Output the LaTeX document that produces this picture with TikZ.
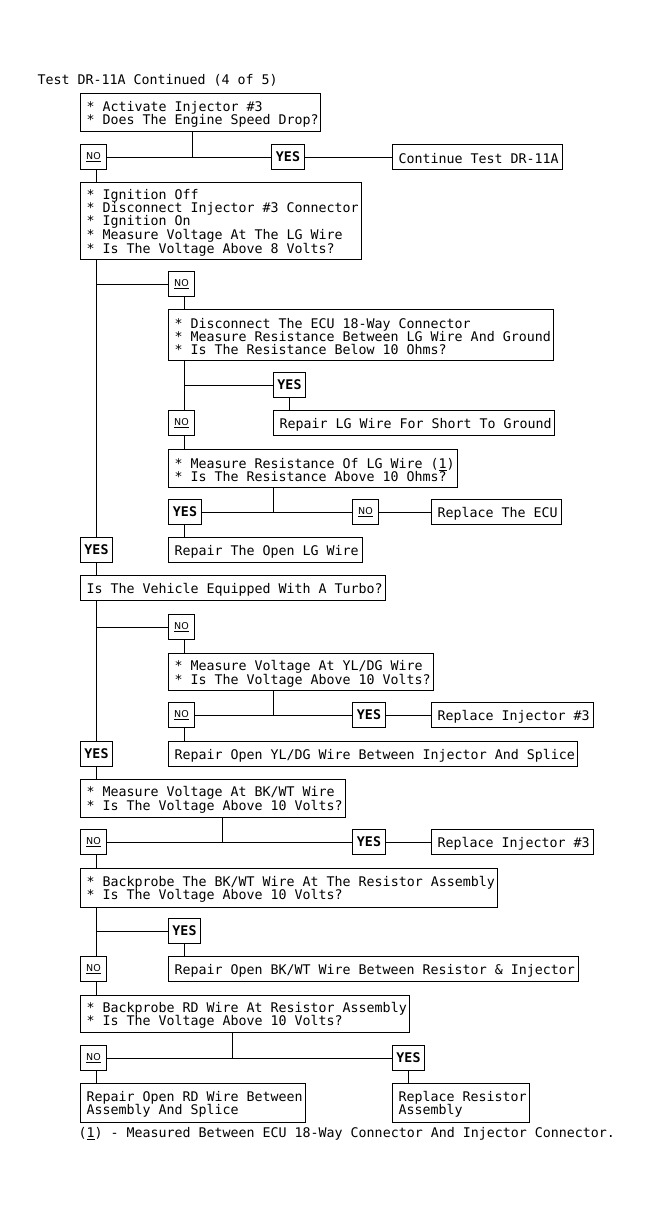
\documentclass[tikz,border=0pt]{standalone}
\usepackage{fontspec}
\setmainfont{DejaVu Sans Mono}
\setmonofont{DejaVu Sans Mono}
\newfontfamily\nofont{DejaVu Sans}
\begin{document}
\begin{tikzpicture}[x=1pt,y=-1pt,line width=1pt,
  every node/.style={font=\fontsize{13.3}{13}\selectfont},
  tbox/.style={draw,anchor=north west,inner xsep=0pt,inner ysep=0pt},
  rbox/.style={draw,anchor=west,inner xsep=0pt,inner ysep=0pt,minimum height=25pt},
  sbox/.style={draw,anchor=west,inner sep=0pt,minimum height=25pt,align=center},
  yestxt/.style={font=\bfseries\fontsize{13.3}{13}\selectfont},
  notxt/.style={font=\nofont\fontsize{9.5}{10}\selectfont}]
\useasboundingbox (0,0) rectangle (646,1216);
\newcommand\bx[6]{\node[tbox,text width=#4pt,minimum height=#5pt] (#1) at (#2,#3) {\spaceskip=0pt\xspaceskip=0pt\noindent\hspace*{6pt}\parbox[c]{\dimexpr#4pt-6pt\relax}{\vspace*{3pt}#6}};}
\newcommand\rx[5]{\node[rbox,text width=#4pt] (#1) at (#2,#3) {\spaceskip=0pt\xspaceskip=0pt\noindent\hspace*{6pt}\parbox[c]{\dimexpr#4pt-6pt\relax}{\vspace*{3pt}#5}};}
\newcommand\nob[3]{\node[sbox,notxt,minimum width=26pt] (#1) at (#2,#3) {\underline{NO}};}
\newcommand\yesb[4]{\node[sbox,yestxt,minimum width=#4pt] (#1) at (#2,#3) {YES};}

\node[anchor=west,inner sep=0pt] (title) at (37,80) {Test DR-11A Continued (4 of 5)};

\bx{box1}{80}{93}{240}{38}{* Activate Injector \#3\\{}* Does The Engine Speed Drop?}
\nob{no1}{80}{157}
\yesb{yes1}{271}{157}{33}
\rx{cont}{392}{157}{170}{Continue Test DR-11A}
\bx{box2}{80}{182}{281}{77}{* Ignition Off\\{}* Disconnect Injector \#3 Connector\\{}* Ignition On\\{}* Measure Voltage At The LG Wire\\{}* Is The Voltage Above 8 Volts?}
\nob{no2}{168}{284}
\bx{box3}{168}{309}{385}{51}{* Disconnect The ECU 18-Way Connector\\{}* Measure Resistance Between LG Wire And Ground\\{}* Is The Resistance Below 10 Ohms?}
\yesb{yes2}{273}{385}{32}
\rx{replg}{273}{423}{281}{Repair LG Wire For Short To Ground}
\nob{no3}{168}{423}
\bx{box4}{168}{449}{289}{38}{* Measure Resistance Of LG Wire (\underline{1})\\{}* Is The Resistance Above 10 Ohms?}
\yesb{yes3}{168}{512}{33}
\nob{no4}{352}{512}
\rx{repecu}{431}{512}{130}{Replace The ECU}
\rx{repopen}{168}{550}{194}{Repair The Open LG Wire}
\yesb{yes4}{80}{550}{32}
\rx{turbo}{80}{588}{305}{Is The Vehicle Equipped With A Turbo?}
\nob{no5}{168}{627}
\bx{box5}{168}{653}{265}{37}{* Measure Voltage At YL/DG Wire\\{}* Is The Voltage Above 10 Volts?}
\nob{no6}{168}{715}
\yesb{yes6}{352}{715}{33}
\rx{repinj}{431}{715}{162}{Replace Injector \#3}
\rx{repyl}{168}{754}{409}{Repair Open YL/DG Wire Between Injector And Splice}
\yesb{yes5}{80}{754}{32}
\bx{box6}{80}{779}{265}{38}{* Measure Voltage At BK/WT Wire\\{}* Is The Voltage Above 10 Volts?}
\nob{no7}{80}{842}
\yesb{yes7}{352}{842}{33}
\rx{repinj2}{431}{842}{162}{Replace Injector \#3}
\bx{box7}{80}{868}{417}{39}{* Backprobe The BK/WT Wire At The Resistor Assembly\\{}* Is The Voltage Above 10 Volts?}
\yesb{yes8}{168}{931}{32}
\rx{repbk}{168}{969}{410}{Repair Open BK/WT Wire Between Resistor \& Injector}
\nob{no8}{80}{969}
\bx{box8}{80}{995}{329}{37}{* Backprobe RD Wire At Resistor Assembly\\{}* Is The Voltage Above 10 Volts?}
\nob{no9}{80}{1058}
\yesb{yes9}{392}{1058}{32}
\bx{reprd}{80}{1083}{225}{39}{Repair Open RD Wire Between\\Assembly And Splice}
\bx{repres}{392}{1083}{137}{39}{Replace Resistor\\Assembly}
\node[anchor=west,inner sep=0pt] (foot) at (78,1134) {(\underline{1}) - Measured Between ECU 18-Way Connector And Injector Connector.};

\coordinate (t1) at (96,0);
\coordinate (t2) at (184,0);
\coordinate (j1) at (192,157);
\coordinate (b1) at (96,284);
\coordinate (b2) at (184,385);
\coordinate (j4) at (273,512);
\coordinate (b3) at (96,627);
\coordinate (j5) at (273,715);
\coordinate (j6) at (222,842);
\coordinate (b4) at (96,931);
\coordinate (j8) at (232,1058);

\draw (box1.south -| j1) -- (j1);
\draw (no1.east) -- (yes1.west);
\draw (yes1.east) -- (cont.west);
\draw (no1.south -| t1) -- (box2.north -| t1);
\draw (box2.south -| t1) -- (yes4.north -| t1);
\draw (b1) -- (no2.west);
\draw (no2.south -| t2) -- (box3.north -| t2);
\draw (box3.south -| t2) -- (no3.north -| t2);
\draw (b2) -- (yes2.west);
\draw (yes2.south) -- (yes2.south |- replg.north);
\draw (no3.south -| t2) -- (box4.north -| t2);
\draw (box4.south -| j4) -- (j4);
\draw (yes3.east) -- (no4.west);
\draw (no4.east) -- (repecu.west);
\draw (yes3.south -| t2) -- (repopen.north -| t2);
\draw (yes4.south -| t1) -- (turbo.north -| t1);
\draw (turbo.south -| t1) -- (yes5.north -| t1);
\draw (b3) -- (no5.west);
\draw (no5.south -| t2) -- (box5.north -| t2);
\draw (box5.south -| j5) -- (j5);
\draw (no6.east) -- (yes6.west);
\draw (yes6.east) -- (repinj.west);
\draw (no6.south -| t2) -- (repyl.north -| t2);
\draw (yes5.south -| t1) -- (box6.north -| t1);
\draw (box6.south -| j6) -- (j6);
\draw (no7.east) -- (yes7.west);
\draw (yes7.east) -- (repinj2.west);
\draw (no7.south -| t1) -- (box7.north -| t1);
\draw (box7.south -| t1) -- (no8.north -| t1);
\draw (b4) -- (yes8.west);
\draw (yes8.south -| t2) -- (repbk.north -| t2);
\draw (no8.south -| t1) -- (box8.north -| t1);
\draw (box8.south -| j8) -- (j8);
\draw (no9.east) -- (yes9.west);
\draw (no9.south -| t1) -- (reprd.north -| t1);
\draw (yes9.south) -- (yes9.south |- repres.north);
\end{tikzpicture}
\end{document}
